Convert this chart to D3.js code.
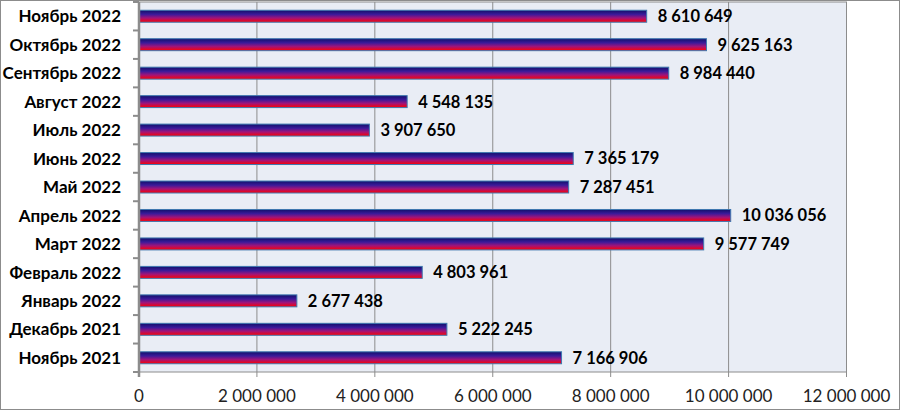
<!DOCTYPE html>
<html><head><meta charset="utf-8">
<script src="https://cdn.jsdelivr.net/npm/d3@7"></script>
<style>body{margin:0;background:#fff}svg{display:block}</style>
</head><body><svg id="c" width="901" height="411"></svg>
<script>
const categories = ["Ноябрь 2022","Октябрь 2022","Сентябрь 2022","Август 2022","Июль 2022","Июнь 2022","Май 2022","Апрель 2022","Март 2022","Февраль 2022","Январь 2022","Декабрь 2021","Ноябрь 2021"];
const values = [8610649,9625163,8984440,4548135,3907650,7365179,7287451,10036056,9577749,4803961,2677438,5222245,7166906];
const ticks = [0,2000000,4000000,6000000,8000000,10000000,12000000];

const svg = d3.select("#c");
const font = "Lato, 'Open Sans', sans-serif";
const L = 139, R = 846.5, T = 2, B = 372;
const x = d3.scaleLinear().domain([0,12000000]).range([L,R]);
const y = d3.scaleBand().domain(categories).range([T,B]).paddingInner(0.58).paddingOuter(0.29);
const fmt = v => d3.format(",")(v).replace(/,/g," ");

svg.append("rect").attr("x",0.5).attr("y",0.5).attr("width",899).attr("height",409).attr("fill","#fff").attr("stroke","#8c8c8c");
svg.append("rect").attr("x",L).attr("y",T).attr("width",R-L).attr("height",B-T).attr("fill","#e9edf5").attr("stroke","#8c8c8c");

const defs = svg.append("defs");
const g = defs.append("linearGradient").attr("id","grad").attr("x1",0).attr("y1",0).attr("x2",0).attr("y2",1);
[[0,"#10106a"],[0.35,"#3c1a9a"],[0.65,"#a0147a"],[1,"#ff0000"]].forEach(([o,c])=>g.append("stop").attr("offset",o).attr("stop-color",c));

svg.append("g").selectAll("line").data(ticks.slice(1)).join("line")
  .attr("x1",d=>x(d)).attr("x2",d=>x(d)).attr("y1",T).attr("y2",B+5)
  .attr("stroke","#8c8c8c").attr("stroke-width",1);

svg.append("g").selectAll("rect").data(values).join("rect")
  .attr("x",L).attr("y",(d,i)=>y(categories[i])).attr("width",d=>x(d)-L).attr("height",y.bandwidth())
  .attr("fill","url(#grad)").attr("stroke","#3f78b0").attr("stroke-width",1);

svg.append("g").selectAll("text").data(values).join("text")
  .attr("x",d=>x(d)+11).attr("y",(d,i)=>y(categories[i])+y.bandwidth()/2).attr("dy","0.36em")
  .attr("font-family",font).attr("font-weight","bold").attr("font-size",16.5).text(fmt);

// y axis
const step = y.step();
svg.append("line").attr("x1",L).attr("x2",L).attr("y1",T).attr("y2",B+5).attr("stroke","#8c8c8c").attr("stroke-width",2.5);
svg.append("g").selectAll("line").data(d3.range(categories.length+1)).join("line")
  .attr("x1",L-6).attr("x2",L).attr("y1",i=>T+i*step).attr("y2",i=>T+i*step).attr("stroke","#8c8c8c").attr("stroke-width",2);
svg.append("g").selectAll("text").data(categories).join("text")
  .attr("x",121).attr("y",d=>y(d)+y.bandwidth()/2).attr("dy","0.36em").attr("text-anchor","end")
  .attr("font-family",font).attr("font-weight","bold").attr("font-size",17).text(d=>d);

svg.append("g").selectAll("text").data(ticks).join("text")
  .attr("x",d=>x(d)).attr("y",396).attr("dy","0.36em").attr("text-anchor","middle")
  .attr("font-family",font).attr("font-size",17).attr("fill","#222").text(fmt);
</script></body></html>
